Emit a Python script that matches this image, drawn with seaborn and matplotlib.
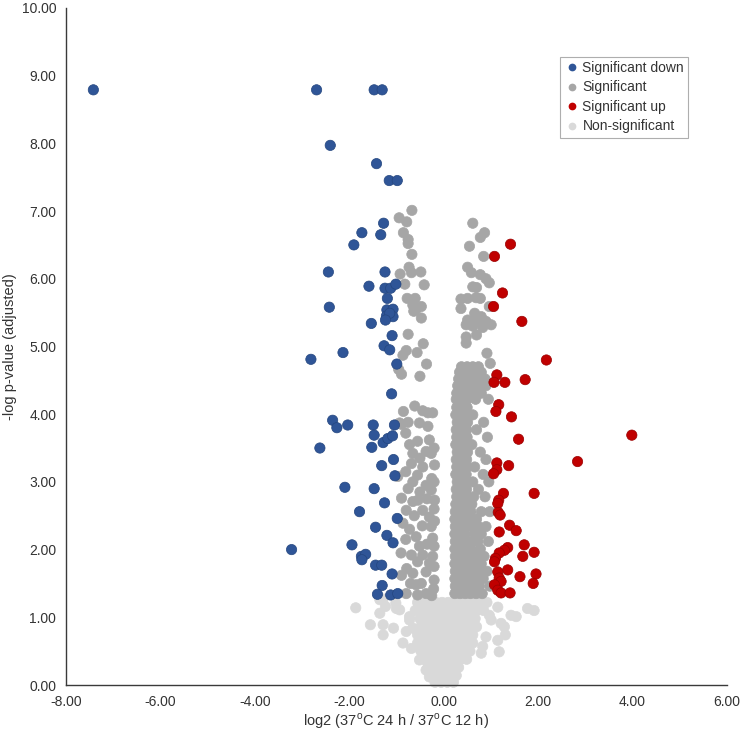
import matplotlib
matplotlib.use('Agg')
import matplotlib.pyplot as plt
import seaborn as sns
import pandas as pd
from matplotlib.ticker import FormatStrFormatter

# ---------------- data ----------------
categories = ["Significant down", "Significant", "Significant up", "Non-significant"]
colors = {"Significant down": "#2F5597", "Significant": "#A6A6A6",
          "Significant up": "#C00000", "Non-significant": "#D9D9D9"}
edges = {"Significant down": "#24467F", "Significant": "#A6A6A6",
         "Significant up": "#9A0000", "Non-significant": "#D9D9D9"}

down_pts = [(-7.42, 8.79), (-2.69, 8.79), (-1.47, 8.79), (-1.30, 8.79), (-2.40, 7.97),
            (-1.42, 7.70), (-1.15, 7.45), (-0.98, 7.45), (-1.27, 6.82), (-1.73, 6.68),
            (-1.33, 6.65), (-1.90, 6.50), (-2.44, 6.10), (-1.24, 6.10), (-1.58, 5.89),
            (-1.24, 5.86), (-1.12, 5.86), (-1.01, 5.92), (-1.19, 5.71), (-2.42, 5.58),
            (-1.20, 5.54), (-1.07, 5.55), (-1.21, 5.45), (-1.07, 5.44), (-1.14, 5.49),
            (-1.23, 5.39), (-1.53, 5.34), (-1.09, 5.16), (-1.26, 5.01), (-1.14, 4.95),
            (-2.13, 4.91), (-2.81, 4.81), (-0.99, 4.74), (-1.10, 4.30), (-2.35, 3.91),
            (-2.26, 3.80), (-2.03, 3.84), (-1.49, 3.84), (-1.04, 3.84), (-1.47, 3.69),
            (-2.62, 3.50), (-1.52, 3.51), (-1.28, 3.58), (-1.18, 3.64), (-1.08, 3.68),
            (-1.31, 3.24), (-1.06, 3.33), (-1.03, 3.09), (-2.09, 2.92), (-1.47, 2.90),
            (-1.25, 2.69), (-1.78, 2.56), (-0.98, 2.46), (-1.44, 2.33), (-1.20, 2.21),
            (-1.07, 2.10), (-3.22, 2.00), (-1.94, 2.07), (-1.74, 1.90), (-1.65, 1.93),
            (-1.73, 1.85), (-1.44, 1.77), (-1.31, 1.77), (-1.09, 1.64), (-1.30, 1.47),
            (-1.40, 1.34), (-1.12, 1.33), (-0.97, 1.35)]

up_pts = [(1.42, 6.51), (1.08, 6.33), (1.25, 5.79), (1.06, 5.59), (1.66, 5.37), (2.18, 4.80),
          (1.13, 4.58), (1.07, 4.47), (1.30, 4.47), (1.73, 4.51), (1.17, 4.14), (1.11, 4.04),
          (1.44, 3.96), (1.59, 3.63), (3.99, 3.69), (2.84, 3.30), (1.13, 3.28), (1.38, 3.24),
          (1.13, 3.18), (1.06, 3.12), (1.92, 2.83), (1.27, 2.83), (1.17, 2.73), (1.15, 2.68),
          (1.16, 2.55), (1.20, 2.51), (1.40, 2.36), (1.54, 2.28), (1.18, 2.26), (1.71, 2.07),
          (1.36, 2.03), (1.29, 1.99), (1.18, 1.95), (1.10, 1.87), (1.08, 1.82), (1.92, 1.96),
          (1.68, 1.90), (1.36, 1.70), (1.15, 1.67), (1.18, 1.58), (1.22, 1.53), (1.08, 1.48),
          (1.15, 1.40), (1.22, 1.36), (1.62, 1.60), (1.96, 1.64), (1.90, 1.50), (1.41, 1.36)]

sig_left_pts = [(-0.67, 7.01), (-0.94, 6.90), (-0.78, 6.84), (-0.85, 6.68), (-0.75, 6.58),
                (-0.75, 6.52), (-0.67, 6.36), (-0.73, 6.17), (-0.92, 6.07), (-0.68, 6.09),
                (-0.48, 6.10), (-0.82, 5.92), (-0.41, 5.91), (-0.77, 5.71), (-0.60, 5.71),
                (-0.65, 5.61), (-0.58, 5.55), (-0.63, 5.52), (-0.47, 5.42), (-0.47, 5.59),
                (-0.75, 5.18), (-0.43, 5.04), (-0.79, 4.94), (-0.86, 4.87), (-0.56, 4.91),
                (-0.36, 4.74), (-0.95, 4.66), (-0.89, 4.59), (-0.50, 4.56), (-0.61, 4.12),
                (-0.85, 4.04), (-0.44, 4.05), (-0.33, 4.02), (-0.23, 4.02), (-0.93, 3.87),
                (-0.75, 3.88), (-0.89, 3.85), (-0.80, 3.72), (-0.51, 3.87), (-0.33, 3.82),
                (-0.65, 3.42), (-0.37, 3.45), (-0.26, 3.42), (-0.68, 3.27), (-0.44, 3.22),
                (-0.19, 3.25), (-0.97, 3.08), (-0.65, 3.00), (-0.37, 2.95), (-0.26, 2.88),
                (-0.89, 2.76), (-0.65, 2.71), (-0.54, 2.73), (-0.79, 2.58), (-0.44, 2.58),
                (-0.19, 2.73), (-0.86, 2.39), (-0.26, 2.34), (-0.58, 2.19), (-0.51, 2.05),
                (-0.23, 2.17), (-0.68, 1.92), (-0.44, 1.92), (-0.23, 1.90), (-0.89, 1.62),
                (-0.65, 1.65), (-0.37, 1.67), (-0.47, 1.50), (-0.58, 1.48), (-0.79, 1.35),
                (-0.37, 1.35), (-0.55, 3.60), (-0.30, 3.62), (-0.72, 3.55), (-0.50, 3.35),
                (-0.20, 3.50), (-0.80, 3.15), (-0.55, 3.10), (-0.25, 3.05), (-0.20, 3.00),
                (-0.75, 2.90), (-0.50, 2.85), (-0.35, 2.75), (-0.20, 2.60), (-0.62, 2.50),
                (-0.30, 2.48), (-0.72, 2.30), (-0.45, 2.35), (-0.19, 2.42), (-0.80, 2.15),
                (-0.35, 2.08), (-0.20, 2.05), (-0.90, 1.95), (-0.55, 1.82), (-0.30, 1.80),
                (-0.20, 1.75), (-0.78, 1.72), (-0.20, 1.55), (-0.70, 1.50), (-0.21, 1.42),
                (-0.55, 1.33), (-0.25, 1.32)]

sig_right_top_pts = [(0.62, 6.82), (0.87, 6.68), (0.78, 6.61), (0.55, 6.48), (0.85, 6.33),
                     (0.51, 6.17), (0.59, 6.09), (0.78, 6.06), (0.90, 6.00), (0.97, 5.94),
                     (0.62, 5.88), (0.70, 5.87), (0.37, 5.70), (0.51, 5.71), (0.69, 5.72),
                     (0.78, 5.71), (0.37, 5.56), (0.97, 5.59), (0.66, 5.49), (0.80, 5.44),
                     (0.51, 5.39), (0.69, 5.37), (0.90, 5.37), (1.01, 5.32), (0.48, 5.32),
                     (0.62, 5.30), (0.83, 5.28), (0.48, 5.14), (0.48, 5.05), (0.70, 5.17),
                     (0.92, 4.90), (0.99, 4.75)]

# dense part of the right cloud: (y, [x values]) rows
sig_right_rows = [
    (4.70, [0.38, 0.50, 0.62, 0.74]),
    (4.62, [0.34, 0.45, 0.57, 0.69, 0.80]),
    (4.52, [0.32, 0.43, 0.55, 0.66, 0.78, 0.88]),
    (4.42, [0.30, 0.41, 0.52, 0.63, 0.75, 0.90]),
    (4.31, [0.28, 0.40, 0.51, 0.62, 0.80]),
    (4.22, [0.27, 0.38, 0.50, 0.68, 0.95]),
    (4.10, [0.28, 0.39, 0.50]),
    (3.99, [0.26, 0.37, 0.48, 0.62]),
    (3.88, [0.29, 0.40, 0.51, 0.85]),
    (3.77, [0.27, 0.38, 0.49, 0.70]),
    (3.66, [0.28, 0.39, 0.50, 0.93]),
    (3.55, [0.26, 0.37, 0.48, 0.60]),
    (3.44, [0.29, 0.40, 0.51, 0.78]),
    (3.33, [0.27, 0.38, 0.49, 0.90]),
    (3.22, [0.28, 0.39, 0.50, 0.66]),
    (3.11, [0.26, 0.37, 0.48, 0.84]),
    (3.00, [0.29, 0.40, 0.51, 0.62, 0.96]),
    (2.89, [0.27, 0.38, 0.49, 0.74]),
    (2.78, [0.28, 0.39, 0.50, 0.64, 0.88]),
    (2.67, [0.26, 0.37, 0.48, 0.60]),
    (2.56, [0.25, 0.36, 0.47, 0.58, 0.80, 0.98]),
    (2.45, [0.24, 0.35, 0.46, 0.57, 0.70]),
    (2.34, [0.25, 0.36, 0.48, 0.60, 0.74, 0.90]),
    (2.23, [0.24, 0.35, 0.46, 0.66, 0.80]),
    (2.12, [0.25, 0.37, 0.49, 0.61, 0.73, 0.95]),
    (2.01, [0.24, 0.35, 0.46, 0.58, 0.78]),
    (1.90, [0.25, 0.36, 0.48, 0.60, 0.71, 0.86]),
    (1.79, [0.24, 0.35, 0.47, 0.65, 0.80]),
    (1.68, [0.25, 0.37, 0.49, 0.60, 0.74, 0.92]),
    (1.57, [0.24, 0.35, 0.46, 0.58, 0.70, 0.84]),
    (1.46, [0.25, 0.36, 0.48, 0.62, 0.76, 0.98]),
    (1.35, [0.24, 0.35, 0.46, 0.57, 0.69, 0.82]),
]

ns_sparse_pts = [(-1.86, 1.14), (-1.35, 1.26), (-1.23, 1.16), (-1.35, 1.06), (-1.00, 1.13),
                 (-0.72, 1.01), (-1.28, 1.27), (-1.01, 1.21), (-0.93, 1.11), (-1.55, 0.89),
                 (-1.28, 0.89), (-1.06, 0.84), (-1.28, 0.74), (-0.72, 0.96), (-0.79, 0.79),
                 (-0.65, 0.84), (-0.86, 0.62), (-0.68, 0.54), (-0.44, 0.57), (-0.51, 0.37),
                 (-0.37, 0.22), (-0.30, 0.12), (1.78, 1.13), (1.92, 1.10), (1.54, 1.01),
                 (1.43, 1.03), (1.15, 1.15), (0.97, 1.03), (1.01, 0.96), (1.22, 0.91),
                 (1.29, 0.86), (1.31, 0.74), (1.15, 0.66), (1.18, 0.49), (0.90, 0.71),
                 (0.83, 0.57), (0.80, 0.47)]

ns_core_rows = [
    (1.22, [-0.55, -0.42, -0.29, -0.16, -0.03, 0.10, 0.23, 0.36, 0.49, 0.62, 0.75, 0.92]),
    (1.10, [-0.60, -0.47, -0.34, -0.21, -0.08, 0.05, 0.18, 0.31, 0.44, 0.57, 0.70, 0.85]),
    (0.98, [-0.50, -0.37, -0.24, -0.11, 0.02, 0.15, 0.28, 0.41, 0.54, 0.67]),
    (0.86, [-0.48, -0.35, -0.22, -0.09, 0.04, 0.17, 0.30, 0.43, 0.56, 0.70]),
    (0.74, [-0.55, -0.42, -0.29, -0.16, -0.03, 0.10, 0.23, 0.36, 0.49, 0.62]),
    (0.62, [-0.55, -0.42, -0.29, -0.16, -0.03, 0.10, 0.23, 0.36, 0.49, 0.62]),
    (0.50, [-0.48, -0.35, -0.22, -0.09, 0.04, 0.17, 0.30, 0.43, 0.56]),
    (0.38, [-0.42, -0.29, -0.16, -0.03, 0.10, 0.23, 0.36, 0.49]),
    (0.26, [-0.33, -0.20, -0.07, 0.06, 0.19, 0.32]),
    (0.14, [-0.25, -0.12, 0.01, 0.14, 0.27]),
    (0.04, [-0.18, -0.05, 0.08, 0.21]),
]

x_ticks = [-8, -6, -4, -2, 0, 2, 4, 6]
y_ticks = [0, 1, 2, 3, 4, 5, 6, 7, 8, 9, 10]
x_label = r"log2 (37$^\mathregular{o}$C 24 h / 37$^\mathregular{o}$C 12 h)"
y_label = "-log p-value (adjusted)"

# ---------------- build table ----------------
rows = []
for y, xs in ns_core_rows:
    for x in xs:
        rows.append((x, y, "Non-significant"))
for x, y in ns_sparse_pts:
    rows.append((x, y, "Non-significant"))
for x, y in sig_left_pts + sig_right_top_pts:
    rows.append((x, y, "Significant"))
for y, xs in sig_right_rows:
    for x in xs:
        rows.append((x, y, "Significant"))
for x, y in up_pts:
    rows.append((x, y, "Significant up"))
for x, y in down_pts:
    rows.append((x, y, "Significant down"))
df = pd.DataFrame(rows, columns=["x", "y", "cat"])

# ---------------- plot ----------------
sns.set_theme(style="white")
plt.rcParams["font.family"] = ["Liberation Sans", "DejaVu Sans"]
plt.rcParams["mathtext.fontset"] = "custom"
plt.rcParams["mathtext.rm"] = "Liberation Sans"

fig = plt.figure(figsize=(7.44, 7.32), dpi=100)
ax = fig.add_axes([0.0887, 0.0642, 0.888, 0.925])

sns.scatterplot(data=df, x="x", y="y", hue="cat", hue_order=categories,
                palette=colors, s=55, linewidth=0.5, ax=ax, legend=True)
coll = ax.collections[0]
coll.set_edgecolors([edges[c] for c in df["cat"]])
coll.set_clip_on(False)

ax.set_xlim(-8, 6)
ax.set_ylim(0, 10)
ax.set_xticks(x_ticks)
ax.set_yticks(y_ticks)
ax.xaxis.set_major_formatter(FormatStrFormatter("%.2f"))
ax.yaxis.set_major_formatter(FormatStrFormatter("%.2f"))
for s in ["top", "right"]:
    ax.spines[s].set_visible(False)
for s in ["left", "bottom"]:
    ax.spines[s].set_color("#3a3a3a")
    ax.spines[s].set_linewidth(1.0)
ax.tick_params(axis="both", which="major", direction="out", length=4, width=1,
               color="#3a3a3a", labelsize=10, labelcolor="#333333", pad=3)
ax.set_xlabel(x_label, fontsize=10.5, color="#333333", labelpad=2)
ax.set_ylabel(y_label, fontsize=10.5, color="#333333", labelpad=3)

handles, labels = ax.get_legend_handles_labels()
for h in handles:
    h.set_markeredgewidth(0)
leg = ax.legend(handles, labels, loc="upper left", bbox_to_anchor=(0.747, 0.928),
                frameon=True, fancybox=False, edgecolor="#9a9a9a", fontsize=10,
                handletextpad=0.15, borderpad=0.3, labelspacing=0.4,
                markerscale=0.75, handlelength=1.2, borderaxespad=0)
leg.get_frame().set_linewidth(0.8)
for t in leg.get_texts():
    t.set_color("#333333")

fig.savefig("out.png", dpi=100)
